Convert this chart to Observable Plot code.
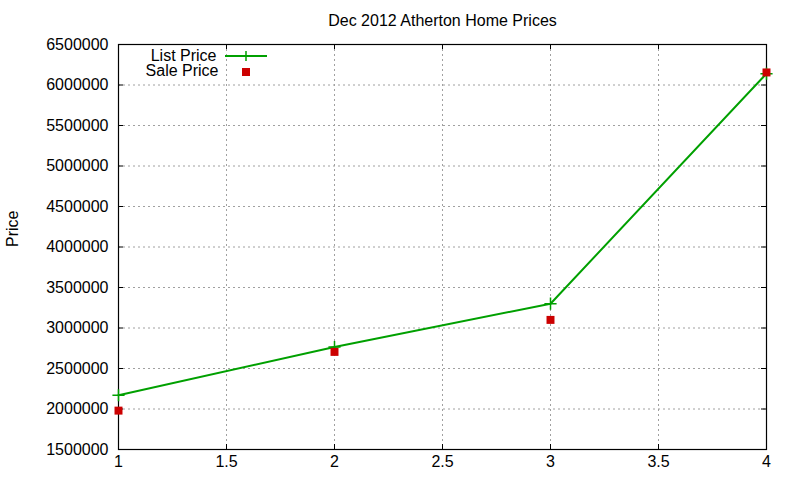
<!DOCTYPE html>
<html>
<head>
<meta charset="utf-8">
<script src="https://cdn.jsdelivr.net/npm/d3@7"></script>
<script src="https://cdn.jsdelivr.net/npm/@observablehq/plot@0.6"></script>
<style>
  html, body { margin: 0; padding: 0; background: #fff; }
  svg { font-family: "Liberation Sans", Arial, sans-serif; }
</style>
</head>
<body>
<div id="chart"></div>
<script>
const title = "Dec 2012 Atherton Home Prices";
const yLabel = "Price";
const bedrooms = [1, 2, 3, 4];
const listPrice = [2170000, 2765000, 3300000, 6140000];
const salePrice = [1980000, 2705000, 3100000, 6155000];
const seriesNames = ["List Price", "Sale Price"];
const xTicks = [1, 1.5, 2, 2.5, 3, 3.5, 4];
const yTicks = [1500000, 2000000, 2500000, 3000000, 3500000, 4000000, 4500000, 5000000, 5500000, 6000000, 6500000];

const listData = bedrooms.map((x, i) => ({x, y: listPrice[i]}));
const saleData = bedrooms.map((x, i) => ({x, y: salePrice[i]}));

const W = 800, H = 480;
const mL = 118, mR = 34, mT = 44, mB = 31;
const fw = W - mL - mR, fh = H - mT - mB;
const green = "#00a000", red = "#cc0000";
const fs = 16;

const chart = Plot.plot({
  width: W,
  height: H,
  marginLeft: mL,
  marginRight: mR,
  marginTop: mT,
  marginBottom: mB,
  style: {fontSize: fs + "px", fontFamily: "'Liberation Sans', Arial, sans-serif", color: "#000", background: "#fff"},
  x: {domain: [1, 4], ticks: xTicks},
  y: {domain: [1500000, 6500000], ticks: yTicks},
  marks: [
    // grid
    Plot.ruleX(xTicks.filter(t => t > 1 && t < 4), {stroke: "#a0a0a0", strokeDasharray: "2,3", strokeWidth: 1, strokeOpacity: 1}),
    Plot.ruleY(yTicks.filter(t => t > 1500000 && t < 6500000), {stroke: "#a0a0a0", strokeDasharray: "2,3", strokeWidth: 1, strokeOpacity: 1}),
    // inward ticks (mirror)
    Plot.ruleX(xTicks, {insetTop: fh - 5, stroke: "#000"}),
    Plot.ruleX(xTicks, {insetBottom: fh - 5, stroke: "#000"}),
    Plot.ruleY(yTicks, {insetRight: fw - 5, stroke: "#000"}),
    Plot.ruleY(yTicks, {insetLeft: fw - 5, stroke: "#000"}),
    Plot.frame({stroke: "#000", strokeWidth: 1.2}),
    // axes labels
    Plot.axisX(xTicks, {tickSize: 0, tickPadding: 6, tickFormat: d => String(d), fontSize: fs, label: null}),
    Plot.axisY(yTicks, {tickSize: 0, tickPadding: 10, tickFormat: d => String(d), fontSize: fs, label: null}),
    // data
    Plot.line(listData, {x: "x", y: "y", stroke: green, strokeWidth: 2}),
    Plot.dot(listData, {x: "x", y: "y", symbol: "plus", stroke: green, strokeWidth: 1.5, r: 4}),
    Plot.dot(saleData, {x: "x", y: "y", symbol: "square", fill: red, stroke: "none", r: 4.5}),
    // title
    Plot.text([title], {frameAnchor: "top", dy: -24, lineAnchor: "middle", fontSize: fs, fill: "#000"}),
    // y label
    Plot.text([yLabel], {frameAnchor: "left", dx: -106, rotate: -90, fontSize: fs, fill: "#000"}),
    // legend
    Plot.text([seriesNames[0]], {frameAnchor: "top-left", dx: 98, dy: 11, lineAnchor: "middle", textAnchor: "end", fontSize: fs, fill: "#000"}),
    Plot.text([seriesNames[1]], {frameAnchor: "top-left", dx: 100, dy: 26, lineAnchor: "middle", textAnchor: "end", fontSize: fs, fill: "#000"})
  ]
});

// Legend samples
const svg = d3.select(chart);
const lg = svg.append("g");
lg.append("line").attr("x1", mL + 107).attr("x2", mL + 149).attr("y1", mT + 12).attr("y2", mT + 12).attr("stroke", green).attr("stroke-width", 2);
lg.append("path").attr("d", d3.symbol(d3.symbolPlus, 36)()).attr("transform", `translate(${mL + 128},${mT + 12})`).attr("stroke", green).attr("stroke-width", 1.5).attr("fill", "none");
lg.append("rect").attr("x", mL + 124).attr("y", mT + 24).attr("width", 8).attr("height", 8).attr("fill", red);

document.getElementById("chart").appendChild(chart);
</script>
</body>
</html>
